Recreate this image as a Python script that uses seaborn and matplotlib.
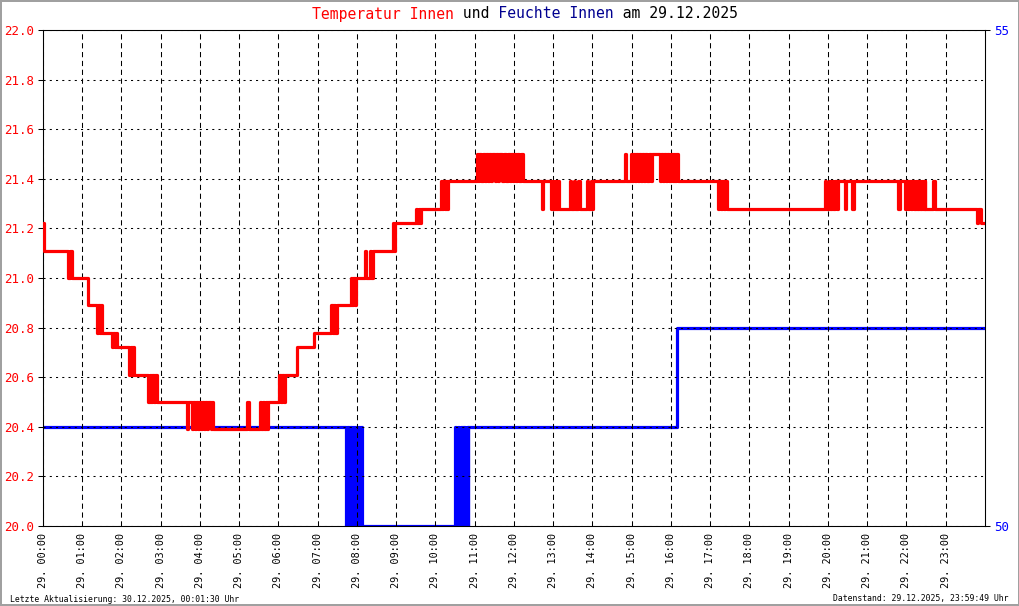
import matplotlib
matplotlib.use("Agg")
import matplotlib.pyplot as plt
import pandas as pd
import seaborn as sns

# Temperatur Innen (step series, hour of day -> degC)
temp_hours = [
    0.00, 0.03, 0.64, 0.70, 0.74, 1.15, 1.37, 1.40, 1.44, 1.47, 1.50,
    1.75, 1.79, 1.84, 1.87, 1.89, 2.20, 2.24, 2.28, 2.30, 2.33,
    2.68, 2.72, 2.75, 2.78, 2.83, 2.86, 2.90,
    3.66, 3.69, 3.80, 3.83, 3.87, 3.90, 3.95, 3.98, 4.02, 4.05, 4.10, 4.13,
    4.18, 4.21, 4.27, 4.30, 4.33,
    5.21, 5.24, 5.53, 5.56, 5.60, 5.63, 5.67, 5.70, 5.74,
    6.02, 6.06, 6.10, 6.13, 6.16, 6.46, 6.90,
    7.35, 7.38, 7.42, 7.45, 7.48, 7.84, 7.87, 7.91, 7.94, 7.98,
    8.20, 8.24, 8.33, 8.36, 8.40, 8.91, 8.94, 8.98,
    9.50, 9.53, 9.57, 9.60, 9.63,
    10.13, 10.16, 10.20, 10.23, 10.27, 10.30, 10.33,
    11.05, 11.09, 11.12, 11.17, 11.20, 11.25, 11.28, 11.34, 11.37, 11.42,
    11.45, 11.52, 11.55, 11.60, 11.63, 11.70, 11.74, 11.80, 11.84, 11.90,
    11.93, 11.97, 12.00, 12.05, 12.08, 12.12, 12.18, 12.22,
    12.71, 12.74, 12.93, 12.97, 13.00, 13.04, 13.07, 13.12, 13.15,
    13.43, 13.46, 13.53, 13.56, 13.64, 13.67, 13.86, 13.89, 13.95, 13.98, 14.02,
    14.83, 14.86, 14.97, 15.00, 15.04, 15.08, 15.11, 15.16, 15.19, 15.24,
    15.27, 15.32, 15.35, 15.40, 15.43, 15.48, 15.51,
    15.72, 15.75, 15.80, 15.83, 15.88, 15.91, 15.96, 15.99, 16.04, 16.07,
    16.11, 16.14, 16.17,
    17.20, 17.23, 17.27, 17.30, 17.34, 17.38, 17.42,
    19.92, 19.95, 20.03, 20.06, 20.10, 20.14, 20.18, 20.22, 20.25,
    20.43, 20.47, 20.60, 20.65, 21.79, 21.84,
    21.96, 21.99, 22.03, 22.07, 22.11, 22.15, 22.19, 22.23, 22.27, 22.31,
    22.35, 22.39, 22.43, 22.46, 22.48, 22.67, 22.72,
    23.79, 23.83, 23.90, 24.00,
]
temp_values = [
    21.22, 21.11, 21.00, 21.11, 21.00, 20.89, 20.78, 20.89, 20.78, 20.89, 20.78,
    20.72, 20.78, 20.72, 20.78, 20.72, 20.61, 20.72, 20.61, 20.72, 20.61,
    20.50, 20.61, 20.50, 20.61, 20.50, 20.61, 20.50,
    20.39, 20.50, 20.39, 20.50, 20.39, 20.50, 20.39, 20.50, 20.39, 20.50, 20.39, 20.50,
    20.39, 20.50, 20.39, 20.50, 20.39,
    20.50, 20.39, 20.50, 20.39, 20.50, 20.39, 20.50, 20.39, 20.50,
    20.61, 20.50, 20.61, 20.50, 20.61, 20.72, 20.78,
    20.89, 20.78, 20.89, 20.78, 20.89, 21.00, 20.89, 21.00, 20.89, 21.00,
    21.11, 21.00, 21.11, 21.00, 21.11, 21.22, 21.11, 21.22,
    21.28, 21.22, 21.28, 21.22, 21.28,
    21.39, 21.28, 21.39, 21.28, 21.39, 21.28, 21.39,
    21.50, 21.39, 21.50, 21.39, 21.50, 21.39, 21.50, 21.39, 21.50, 21.39,
    21.50, 21.39, 21.50, 21.39, 21.50, 21.39, 21.50, 21.39, 21.50, 21.39,
    21.50, 21.39, 21.50, 21.39, 21.50, 21.39, 21.50, 21.39,
    21.28, 21.39, 21.28, 21.39, 21.28, 21.39, 21.28, 21.39, 21.28,
    21.39, 21.28, 21.39, 21.28, 21.39, 21.28, 21.39, 21.28, 21.39, 21.28, 21.39,
    21.50, 21.39, 21.50, 21.39, 21.50, 21.39, 21.50, 21.39, 21.50, 21.39,
    21.50, 21.39, 21.50, 21.39, 21.50, 21.39, 21.50,
    21.39, 21.50, 21.39, 21.50, 21.39, 21.50, 21.39, 21.50, 21.39, 21.50,
    21.39, 21.50, 21.39,
    21.28, 21.39, 21.28, 21.39, 21.28, 21.39, 21.28,
    21.39, 21.28, 21.39, 21.28, 21.39, 21.28, 21.39, 21.28, 21.39,
    21.28, 21.39, 21.28, 21.39, 21.28, 21.39,
    21.28, 21.39, 21.28, 21.39, 21.28, 21.39, 21.28, 21.39, 21.28, 21.39,
    21.28, 21.39, 21.28, 21.39, 21.28, 21.39, 21.28,
    21.22, 21.28, 21.22, 21.22,
]

# Feuchte Innen (step series, hour of day -> %)
hum_hours = [
    0.00, 7.72, 7.75, 7.79, 7.82, 7.86, 7.89, 7.93, 7.96, 8.00, 8.03, 8.07,
    8.10, 8.13, 10.50, 10.53, 10.57, 10.60, 10.64, 10.67, 10.71, 10.74,
    10.80, 10.82, 10.84, 16.15, 24.00,
]
hum_values = [
    51, 50, 51, 50, 51, 50, 51, 50, 51, 50, 51, 50,
    51, 50, 51, 50, 51, 50, 51, 50, 51, 50,
    51, 50, 51, 52, 52,
]

hour_labels = [f"29. {h:02d}:00" for h in range(24)]
temp_ticks = [20.0, 20.2, 20.4, 20.6, 20.8, 21.0, 21.2, 21.4, 21.6, 21.8, 22.0]
hum_ticks = [50, 55]

RED = "#ff0000"
BLUE = "#0000ff"
NAVY = "#000090"

sns.set_style("white")
plt.rcParams["font.family"] = ["DejaVu Sans Mono"]

temp_df = pd.DataFrame({"hour": temp_hours, "value": temp_values})
hum_df = pd.DataFrame({"hour": hum_hours, "value": hum_values})

fig = plt.figure(figsize=(10.2, 6.06), dpi=100)
fig.patch.set_facecolor("white")
fig.patch.set_edgecolor("#a0a0a0")
fig.patch.set_linewidth(1.5)

ax = fig.add_axes([43 / 1020, 80 / 606, 942 / 1020, 496 / 606])
ax2 = ax.twinx()
# temperature axis (with grid) above humidity axis
ax.set_zorder(ax2.get_zorder() + 1)
ax.patch.set_visible(False)

sns.lineplot(data=hum_df, x="hour", y="value", ax=ax2, color=BLUE, lw=2.3,
             drawstyle="steps-post", estimator=None)
sns.lineplot(data=temp_df, x="hour", y="value", ax=ax, color=RED, lw=2.3,
             drawstyle="steps-post", estimator=None, zorder=5)

ax.set_xlim(0, 24)
ax.set_ylim(20, 22)
ax2.set_ylim(50, 55)
for a in (ax, ax2):
    a.set_xlabel("")
    a.set_ylabel("")
    for sp in a.spines.values():
        sp.set_color("black")
        sp.set_linewidth(0.75)

ax.set_xticks(range(24))
ax.set_xticklabels(hour_labels, rotation=90, fontsize=7.3)
ax.tick_params(axis="x", length=0, pad=5, labelcolor="black")
ax.set_yticks(temp_ticks)
ax.set_yticklabels([f"{t:.1f}" for t in temp_ticks], fontsize=9)
ax.tick_params(axis="y", left=True, direction="out", length=3.6, width=0.75,
               color="black", labelcolor=RED, pad=3)
ax2.set_yticks(hum_ticks)
ax2.set_yticklabels([str(t) for t in hum_ticks], fontsize=9)
ax2.tick_params(axis="y", right=True, direction="out", length=3.6, width=0.75,
                color="black", labelcolor=BLUE, pad=3)

ax.grid(True, axis="x", color="black", lw=0.75, linestyle=(0, (5, 3.5)))
ax.grid(True, axis="y", color="black", lw=0.75, linestyle=(0, (2, 4)))
ax2.grid(False)

# multi-coloured title, monospace so padded strings line up
title_parts = [
    ("Temperatur Innen", RED),
    (" und ", "black"),
    ("Feuchte Innen", NAVY),
    (" am 29.12.2025", "black"),
]
full = "".join(p for p, _ in title_parts)
pos = 0
for part, col in title_parts:
    s = " " * pos + part + " " * (len(full) - pos - len(part))
    fig.text(525 / 1020, 1 - 14 / 606, s, ha="center", va="center",
             fontsize=10.6, color=col)
    pos += len(part)

fig.text(10 / 1020, 1 - 599 / 606, "Letzte Aktualisierung: 30.12.2025, 00:01:30 Uhr",
         ha="left", va="center", fontsize=5.9, color="black")
fig.text(1009 / 1020, 1 - 599 / 606, "Datenstand: 29.12.2025, 23:59:49 Uhr",
         ha="right", va="center", fontsize=5.9, color="black")

fig.savefig("out.png", dpi=100)
